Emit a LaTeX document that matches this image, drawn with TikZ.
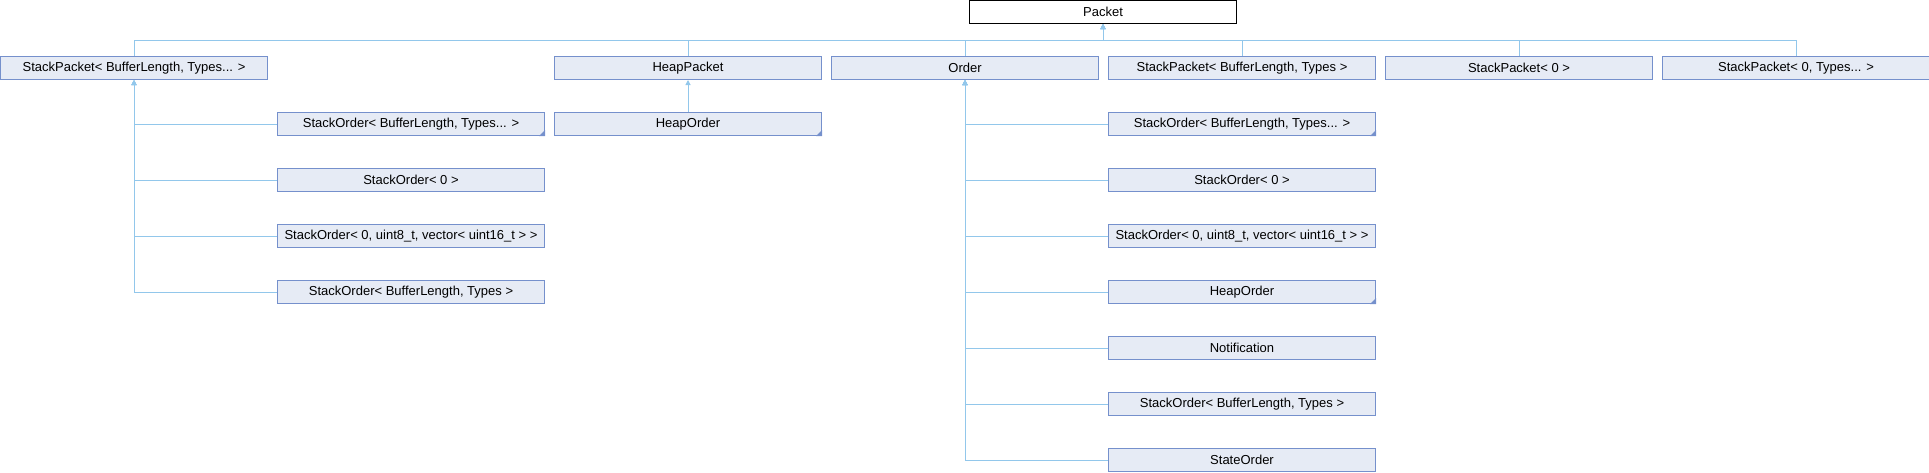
\documentclass[tikz,border=0pt]{standalone}
\usepackage{fontspec}
\setmainfont{Liberation Sans}
\usetikzlibrary{arrows.meta}
\definecolor{boxfill}{HTML}{E6EBF5}
\definecolor{boxdraw}{HTML}{7590CC}
\definecolor{conncol}{HTML}{92C7EB}
\tikzset{
  cls/.style={draw=boxdraw, fill=boxfill, line width=1pt, minimum width=267pt, minimum height=23pt,
    inner sep=0pt, anchor=north west, font=\fontsize{13}{15}\selectfont},
  root/.style={cls, draw=black, fill=white},
  inh/.style={draw=conncol, line width=1pt, {Triangle[width=5pt,length=5pt,fill=conncol]}-},
  more/.style={fill=boxdraw}
}
\newcommand{\moremark}[1]{\fill[more] (#1.south east) -- ++(-6,0) -- ++(6,-6) -- cycle;}
\begin{document}
\begin{tikzpicture}[x=1pt,y=-1pt]
\useasboundingbox (0,0) rectangle (1929,472);
% root
\node[root] (packet) at (969,0) {Packet};
% first level
\node[cls] (spbt) at (0,56) {StackPacket< BufferLength, Types... >};
\node[cls] (hp) at (554,56) {HeapPacket};
\node[cls] (ord) at (831,56) {Order};
\node[cls] (spb) at (1108,56) {StackPacket< BufferLength, Types >};
\node[cls] (sp0) at (1385,56) {StackPacket< 0 >};
\node[cls] (sp0t) at (1662,56) {StackPacket< 0, Types... >};
% children of StackPacket<BufferLength, Types...>
\node[cls] (a1) at (277,112) {StackOrder< BufferLength, Types... >};
\node[cls] (a2) at (277,168) {StackOrder< 0 >};
\node[cls] (a3) at (277,224) {StackOrder< 0, uint8\_t, vector< uint16\_t > >};
\node[cls] (a4) at (277,280) {StackOrder< BufferLength, Types >};
% child of HeapPacket
\node[cls] (h1) at (554,112) {HeapOrder};
% children of Order
\node[cls] (o1) at (1108,112) {StackOrder< BufferLength, Types... >};
\node[cls] (o2) at (1108,168) {StackOrder< 0 >};
\node[cls] (o3) at (1108,224) {StackOrder< 0, uint8\_t, vector< uint16\_t > >};
\node[cls] (o4) at (1108,280) {HeapOrder};
\node[cls] (o5) at (1108,336) {Notification};
\node[cls] (o6) at (1108,392) {StackOrder< BufferLength, Types >};
\node[cls] (o7) at (1108,448) {StateOrder};
% markers
\moremark{a1}
\moremark{h1}
\moremark{o1}
\moremark{o4}
% bus from Packet
\coordinate (bus) at (0,40);
\foreach \c in {spbt,hp,ord,spb,sp0,sp0t}{
  \draw[inh] (packet.south) -- (packet.south |- bus) -| (\c.north);
}
% StackPacket children
\foreach \c in {a1,a2,a3,a4}{
  \draw[inh] (spbt.south) |- (\c.west);
}
\draw[inh] (hp.south) -- (h1.north);
\foreach \c in {o1,o2,o3,o4,o5,o6,o7}{
  \draw[inh] (ord.south) |- (\c.west);
}
\end{tikzpicture}
\end{document}
